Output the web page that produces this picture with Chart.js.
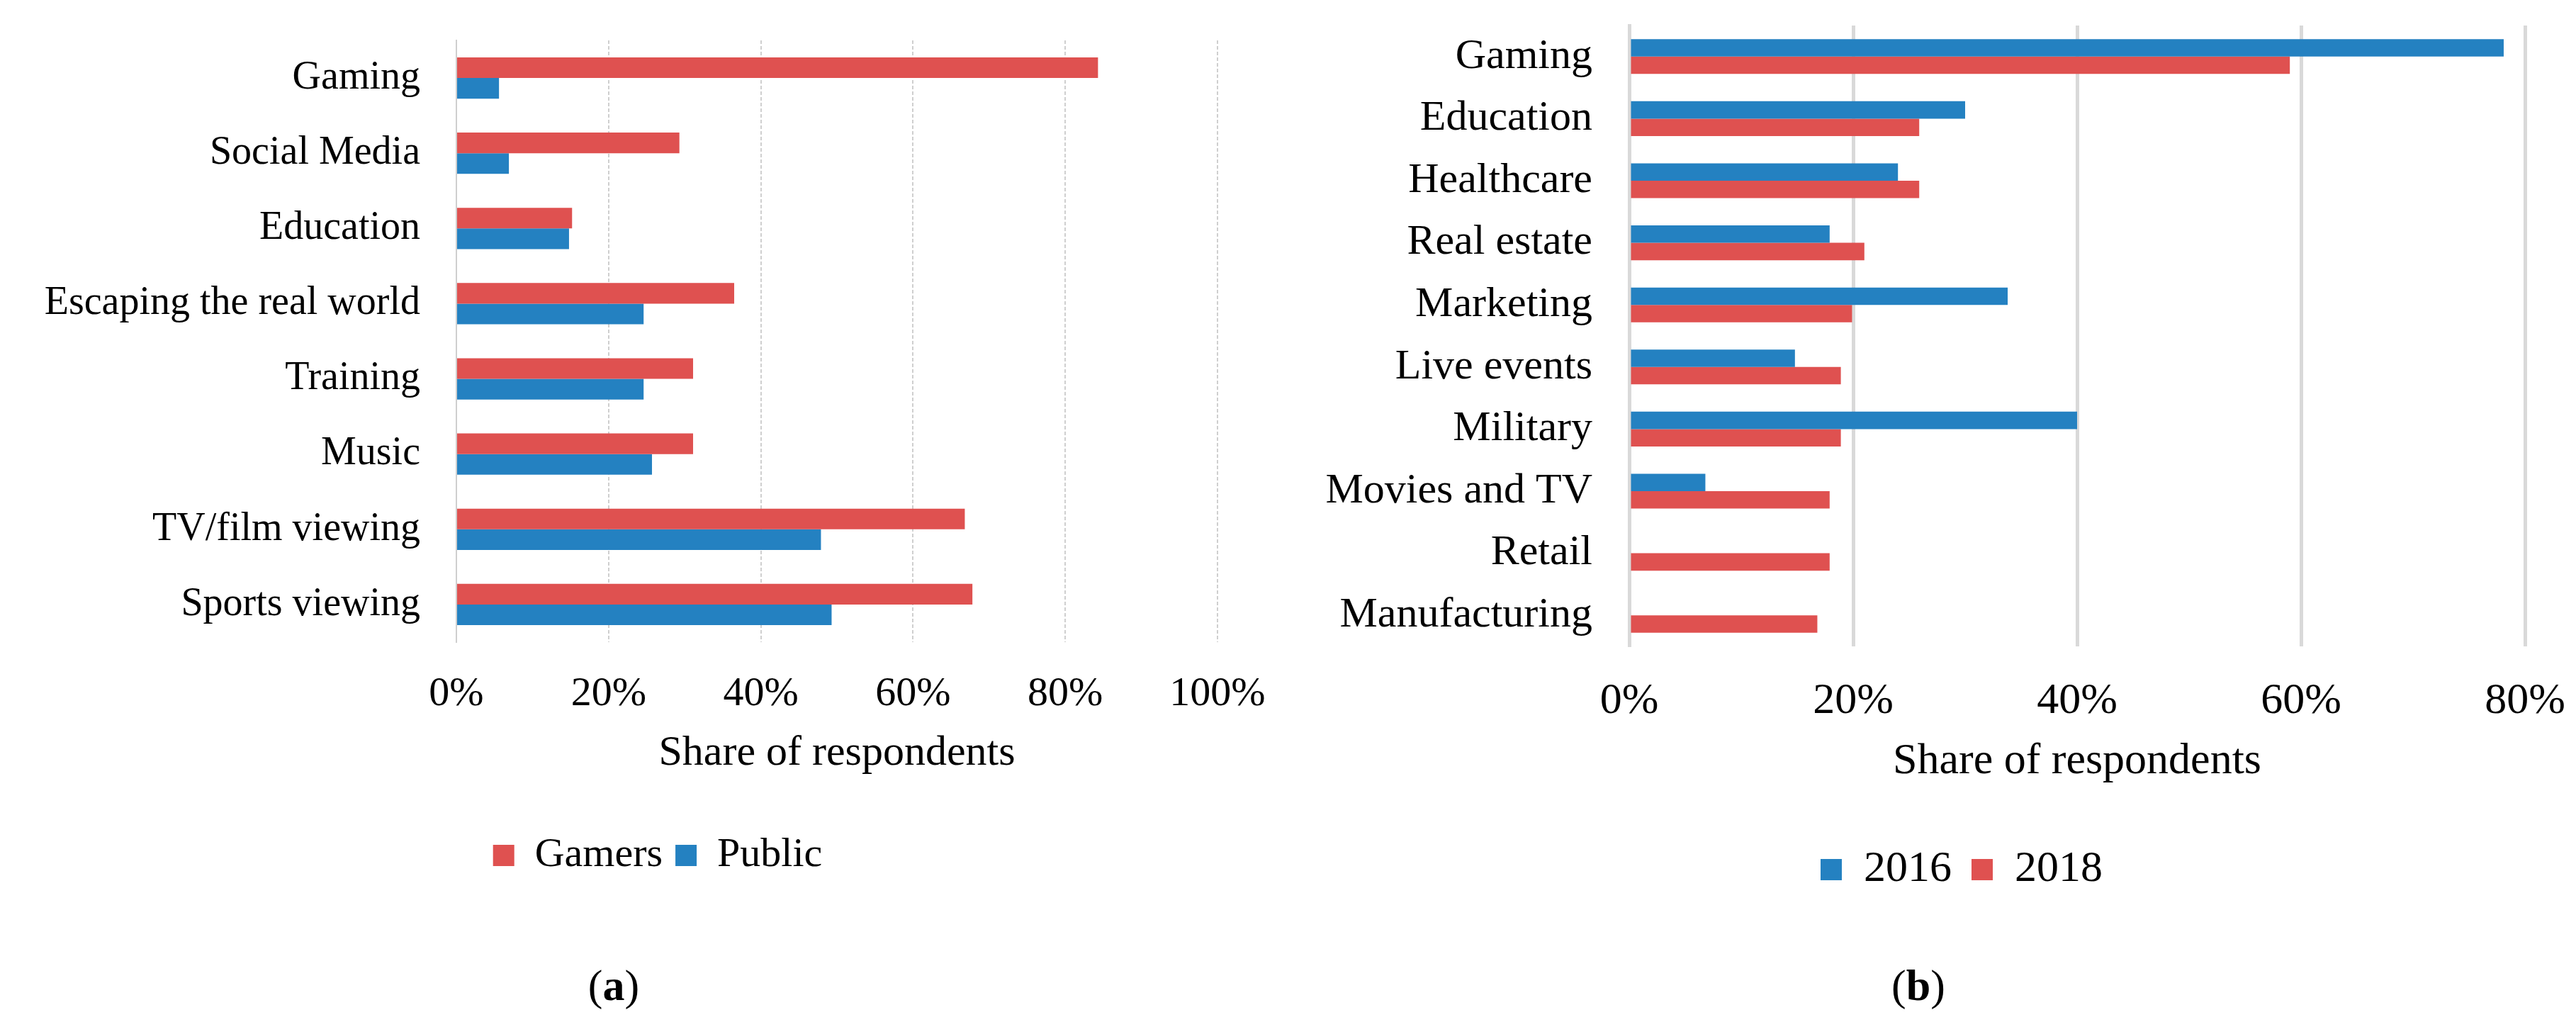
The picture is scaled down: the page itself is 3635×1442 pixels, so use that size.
<!DOCTYPE html>
<html>
<head>
<meta charset="utf-8">
<script src="https://cdn.jsdelivr.net/npm/chart.js@4.4.1/dist/chart.umd.min.js"></script>
<style>
  html, body { margin: 0; padding: 0; background: #ffffff; }
  body { width: 3635px; height: 1442px; position: relative; overflow: hidden; font-family: 'Liberation Serif', serif; }
  .wrap { position: absolute; top: 0; }
  .cap { position: absolute; font-family: 'Liberation Serif', serif; font-size: 62px; color: #000; transform: translate(-50%, -50%); white-space: nowrap; }
</style>
</head>
<body>
<div class="wrap" style="left:0px;width:1850px;height:1246px;"><canvas id="ca"></canvas></div>
<div class="wrap" style="left:1860px;width:1775px;height:1268px;"><canvas id="cb"></canvas></div>
<div class="cap" style="left:866px;top:1390px;">(<b>a</b>)</div>
<div class="cap" style="left:2707px;top:1390px;">(<b>b</b>)</div>
<script>
// ---- Panel (a) data ----
const categoriesA = ['Gaming', 'Social Media', 'Education', 'Escaping the real world', 'Training', 'Music', 'TV/film viewing', 'Sports viewing'];
const gamersValues = [84.3, 29.3, 15.2, 36.5, 31.1, 31.1, 66.8, 67.8];
const publicValues = [5.6, 6.9, 14.8, 24.6, 24.6, 25.7, 47.9, 49.3];
const ticksA = [0, 20, 40, 60, 80, 100];

// ---- Panel (b) data ----
const categoriesB = ['Gaming', 'Education', 'Healthcare', 'Real estate', 'Marketing', 'Live events', 'Military', 'Movies and TV', 'Retail', 'Manufacturing'];
const values2016 = [78.1, 30.0, 24.0, 17.9, 33.8, 14.8, 40.0, 6.8, null, null];
const values2018 = [59.0, 25.9, 25.9, 21.0, 19.9, 18.9, 18.9, 17.9, 17.9, 16.8];
const ticksB = [0, 20, 40, 60, 80];

const RED = '#DF5150';
const BLUE = '#2481C1';
const FONT = 'Liberation Serif';

// moves the legend horizontally so that its items are centred on a given x (canvas coords)
const legendShift = {
  id: 'legendShift',
  beforeDraw(chart, args, opts) {
    const lg = chart.legend;
    if (!lg || opts.center == null) return;
    const w = lg.width;
    lg.left = opts.center - w / 2;
    lg.right = lg.left + w;
  }
};

function makeChart(canvasId, cfg) {
  return new Chart(document.getElementById(canvasId), {
    type: 'bar',
    plugins: [legendShift],
    data: {
      labels: cfg.labels,
      datasets: cfg.datasets.map(d => ({
        label: d.label,
        data: d.data,
        backgroundColor: d.color,
        borderWidth: 0,
        barPercentage: 1.0,
        categoryPercentage: cfg.catPct
      }))
    },
    options: {
      indexAxis: 'y',
      responsive: true,
      maintainAspectRatio: false,
      animation: false,
      devicePixelRatio: 1,
      layout: { padding: cfg.padding },
      plugins: {
        tooltip: { enabled: false },
        legendShift: { center: cfg.legendCenter },
        legend: {
          position: 'bottom',
          align: 'center',
          labels: {
            boxWidth: 30,
            boxHeight: 30,
            padding: cfg.legendPad,
            color: '#000',
            font: { family: FONT, size: cfg.legendSize }
          }
        }
      },
      scales: {
        x: {
          min: 0,
          max: cfg.ticks[cfg.ticks.length - 1],
          afterBuildTicks: (s) => { s.ticks = cfg.ticks.map(v => ({ value: v })); },
          afterFit: (s) => { s.height = cfg.xHeight; s.paddingLeft = 0; s.paddingRight = 0; },
          ticks: {
            padding: cfg.tickPad,
            color: '#000',
            maxRotation: 0,
            font: { family: FONT, size: cfg.tickSize },
            callback: (v) => v + '%'
          },
          grid: {
            display: true,
            drawTicks: false,
            color: cfg.gridColor,
            lineWidth: cfg.gridWidth
          },
          border: { display: false, dash: cfg.gridDash },
          title: {
            display: true,
            text: 'Share of respondents',
            color: '#000',
            font: { family: FONT, size: cfg.titleSize },
            padding: cfg.titlePad
          }
        },
        y: {
          afterFit: (s) => { s.width = cfg.yWidth; s.paddingTop = 0; s.paddingBottom = 0; },
          ticks: {
            padding: cfg.catPad,
            color: '#000',
            font: { family: FONT, size: cfg.catSize }
          },
          grid: { display: false, drawTicks: false },
          border: {
            display: true,
            color: cfg.gridColor,
            width: cfg.gridWidth,
            dash: cfg.gridDash
          }
        }
      }
    }
  });
}

makeChart('ca', {
  labels: categoriesA,
  datasets: [
    { label: 'Gamers', data: gamersValues, color: RED },
    { label: 'Public', data: publicValues, color: BLUE }
  ],
  catPct: 0.55,
  padding: { left: 0, right: 132, top: 57, bottom: 0 },
  legendPad: 18, legendSize: 58, legendCenter: 928,
  ticks: ticksA, tickPad: 39, tickSize: 58, xHeight: 254,
  titleSize: 60, titlePad: { top: 0, bottom: 61 },
  catSize: 56, catPad: 51, yWidth: 644,
  gridColor: '#cfcfcf', gridWidth: 2, gridDash: [5, 3]
});

makeChart('cb', {
  labels: categoriesB,
  datasets: [
    { label: '2016', data: values2016, color: BLUE },
    { label: '2018', data: values2018, color: RED }
  ],
  catPct: 0.56,
  padding: { left: 0, right: 72, top: 36, bottom: 0 },
  legendPad: 28, legendSize: 62, legendCenter: 908,
  ticks: ticksB, tickPad: 41, tickSize: 62, xHeight: 256,
  titleSize: 62, titlePad: { top: 0, bottom: 56 },
  catSize: 60, catPad: 52, yWidth: 439,
  gridColor: '#d9d9d9', gridWidth: 5, gridDash: []
});
</script>
</body>
</html>
